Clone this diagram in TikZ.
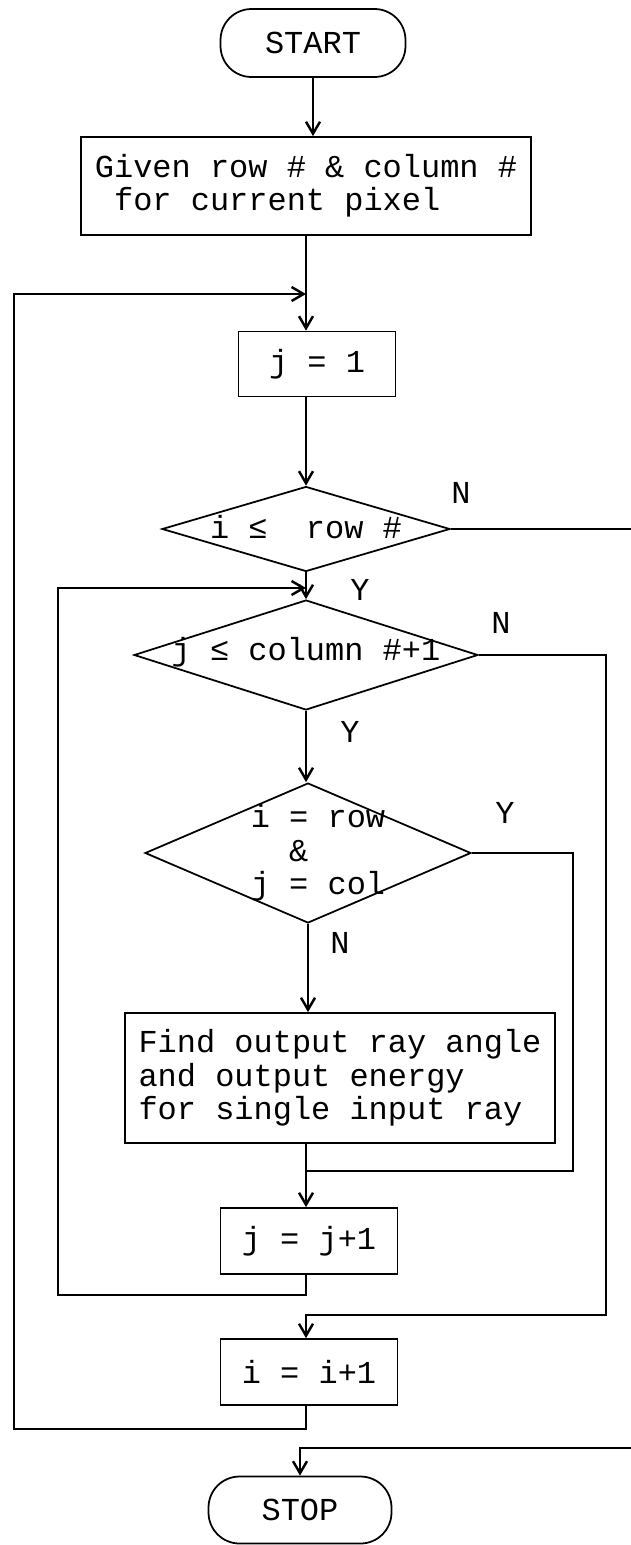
\documentclass[tikz,border=0pt]{standalone}
\usepackage{fontspec}
\newfontfamily\courfont{Liberation Mono}
\usetikzlibrary{arrows.meta,shapes.geometric}

\tikzset{
  txt/.style={font=\courfont\fontsize{18.2}{19}\selectfont},
  flow/.style={txt,draw,line width=1pt},
  proc/.style={flow,rectangle,align=left},
  term/.style={flow,rectangle,rounded corners=0.62cm,minimum width=3.7cm,minimum height=1.36cm},
  dec/.style={flow,diamond,inner sep=0pt},
  line/.style={line width=1.4pt},
  arr/.style={line,-{Straight Barb[length=2.4mm,width=2.8mm]}}
}

\begin{document}
\begin{tikzpicture}[x=0.02cm,y=-0.02cm]
\useasboundingbox (0,0) rectangle (631,1545);
\clip (0,0) rectangle (631,1545);

\node[term] (start) at (313,43) {START};
\node[proc,minimum width=9cm,minimum height=1.96cm] (given) at (306,186)
  {Given row \# \& column \#\\\hspace*{0.6em}for current pixel};
\node[proc,minimum width=3.14cm,minimum height=1.3cm] (j1) at (317,364) {j = 1};
\node[dec,minimum width=5.76cm,minimum height=1.7cm] (d1) at (306,529) {};
\node[txt] (d1t) at (306,527) {i ≤\ \ row \#};
\node[dec,minimum width=6.88cm,minimum height=2.2cm] (d2) at (306,655) {};
\node[txt] (d2t) at (306,652) {j ≤ column \#+1};
\node[dec,minimum width=6.52cm,minimum height=2.8cm] (d3) at (308,853) {};
\node[txt,align=left] (d3t) at (318,853) {i = row\\\hspace*{1.2em}\&\\j = col};
\node[proc,minimum width=8.6cm,minimum height=2.6cm] (find) at (340,1078)
  {Find output ray angle\\and output energy\\for single input ray};
\node[proc,minimum width=3.54cm,minimum height=1.32cm] (jj) at (309,1241) {j = j+1};
\node[proc,minimum width=3.54cm,minimum height=1.32cm] (i1) at (309,1372) {i = i+1};
\node[term,minimum width=3.66cm,minimum height=1.34cm] (stop) at (300,1510) {STOP};

\coordinate (top) at (306,294);
\coordinate (mid) at (306,588);
\coordinate (jn) at (306,1171);
\coordinate (eY) at (573,1171);
\coordinate (eN) at (606,1315);
\coordinate (lpin) at (58,1295);
\coordinate (lpout) at (14,1429);
\coordinate (rgt) at (650,1448);

\draw[arr] (start.south) -- (start.south |- given.north);
\draw[line] (given.south) -- (top);
\draw[arr] (top) -- (j1.north -| top);
\draw[arr] (j1.south -| top) -- (d1.north);
\draw[line] (d1.south) -- (mid);
\draw[arr] (mid) -- (d2.north);
\draw[arr] (d2.south) -- (d2.south |- d3.north);
\draw[arr] (d3.south) -- (d3.south |- find.north);
\draw[line] (find.south -| jn) -- (jn);
\draw[arr] (jn) -- (jn |- jj.north);
\draw[line] (d3.east) -| (eY) -- (jn);
\draw[arr] (jj.south -| jn) |- (lpin) |- (mid);
\draw[arr] (d2.east) -| (eN) -| (i1.north -| jn);
\draw[arr] (i1.south -| jn) |- (lpout) |- (top);
\draw[arr] (d1.east) -| (rgt) -| (stop.north);

\node[txt] (n1) at (461,493) {N};
\node[txt] (y1) at (360,590) {Y};
\node[txt] (n2) at (501,623) {N};
\node[txt] (y2) at (350,732) {Y};
\node[txt] (y3) at (505,813) {Y};
\node[txt] (n3) at (340,943) {N};
\end{tikzpicture}
\end{document}
